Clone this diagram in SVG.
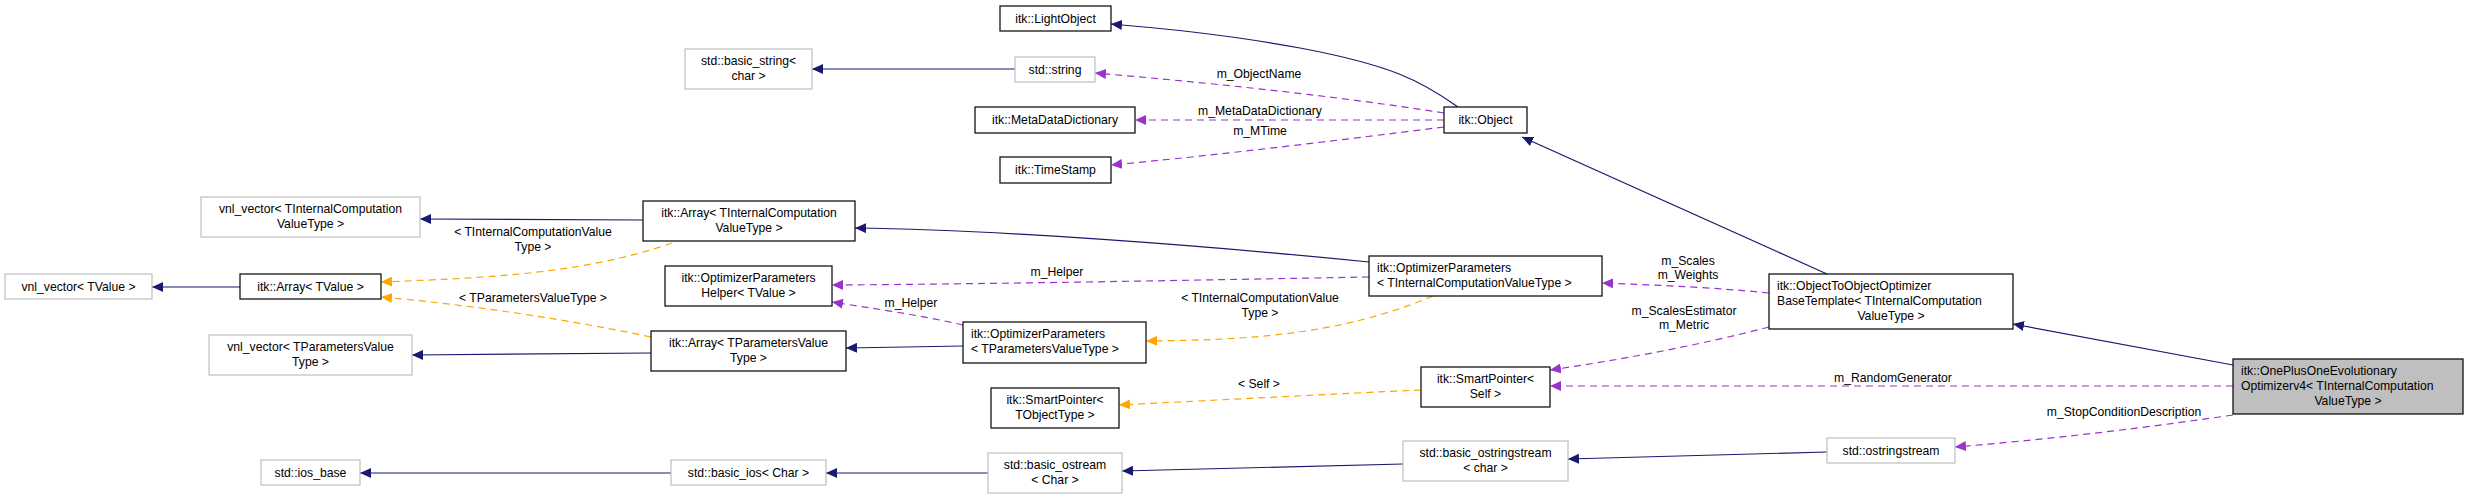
<svg xmlns="http://www.w3.org/2000/svg" width="2465" height="499" viewBox="0 0 2465 499">
<style>
text{font-family:"Liberation Sans",Arial,sans-serif;font-size:12.2px;fill:#000}
.c{text-anchor:middle}
.b{fill:#fff;stroke:#000;stroke-width:1.2}
.g{fill:#fff;stroke:#bfbfbf;stroke-width:1.2}
.n{fill:none;stroke:#191970;stroke-width:1.2}
.p{fill:none;stroke:#9a32cd;stroke-width:1.2;stroke-dasharray:7,5}
.o{fill:none;stroke:#ffa500;stroke-width:1.2;stroke-dasharray:7,5}
</style>
<defs>
<marker id="an" markerWidth="12" markerHeight="10" refX="11" refY="5" orient="auto" markerUnits="userSpaceOnUse"><path d="M0,0L11,5L0,10z" fill="#191970"/></marker>
<marker id="ap" markerWidth="12" markerHeight="10" refX="11" refY="5" orient="auto" markerUnits="userSpaceOnUse"><path d="M0,0L11,5L0,10z" fill="#9a32cd"/></marker>
<marker id="ao" markerWidth="12" markerHeight="10" refX="11" refY="5" orient="auto" markerUnits="userSpaceOnUse"><path d="M0,0L11,5L0,10z" fill="#ffa500"/></marker>
</defs>
<g id="connectors">
<path class="n" marker-end="url(#an)" d="M1015,69L812,69"/>
<path class="n" marker-end="url(#an)" d="M1458,107C1420,80 1390,65 1300,48C1230,35 1160,28 1111,24"/>
<path class="n" marker-end="url(#an)" d="M1827,274L1522,137"/>
<path class="p" marker-end="url(#ap)" d="M1444,113C1330,95 1200,82 1095,73"/>
<text class="c" x="1259" y="78">m_ObjectName</text>
<path class="p" marker-end="url(#ap)" d="M1444,120L1135,120"/>
<text class="c" x="1260" y="115">m_MetaDataDictionary</text>
<path class="p" marker-end="url(#ap)" d="M1444,127C1340,140 1220,155 1111,165"/>
<text class="c" x="1260" y="135">m_MTime</text>
<path class="n" marker-end="url(#an)" d="M1369,262C1200,245 1000,230 855,228"/>
<path class="n" marker-end="url(#an)" d="M643,220L420,219"/>
<path class="n" marker-end="url(#an)" d="M240,287L152,287"/>
<path class="o" marker-end="url(#ao)" d="M672,243C580,275 480,278 381,282"/>
<text class="c" x="533" y="236">&lt; TInternalComputationValue</text>
<text class="c" x="533" y="251">Type &gt;</text>
<path class="o" marker-end="url(#ao)" d="M651,337C560,318 470,305 381,297"/>
<text class="c" x="533" y="302">&lt; TParametersValueType &gt;</text>
<path class="n" marker-end="url(#an)" d="M651,353L412,355"/>
<path class="n" marker-end="url(#an)" d="M963,346L846,348"/>
<path class="p" marker-end="url(#ap)" d="M1369,277C1200,280 1000,284 832,285"/>
<text class="c" x="1057" y="276">m_Helper</text>
<path class="p" marker-end="url(#ap)" d="M963,325C920,315 870,308 832,302"/>
<text class="c" x="911" y="307">m_Helper</text>
<path class="o" marker-end="url(#ao)" d="M1433,296C1340,335 1250,340 1146,341"/>
<text class="c" x="1260" y="302">&lt; TInternalComputationValue</text>
<text class="c" x="1260" y="317">Type &gt;</text>
<path class="p" marker-end="url(#ap)" d="M1769,293C1720,288 1660,285 1602,283"/>
<text class="c" x="1688" y="265">m_Scales</text>
<text class="c" x="1688" y="279">m_Weights</text>
<path class="p" marker-end="url(#ap)" d="M1769,327C1700,345 1620,360 1550,370"/>
<text class="c" x="1684" y="315">m_ScalesEstimator</text>
<text class="c" x="1684" y="329">m_Metric</text>
<path class="p" marker-end="url(#ap)" d="M2233,386L1550,386"/>
<text class="c" x="1893" y="382">m_RandomGenerator</text>
<path class="o" marker-end="url(#ao)" d="M1421,390C1330,394 1220,400 1119,405"/>
<text class="c" x="1259" y="388">&lt; Self &gt;</text>
<path class="n" marker-end="url(#an)" d="M1403,464L1122,471"/>
<path class="n" marker-end="url(#an)" d="M988,473L826,473"/>
<path class="n" marker-end="url(#an)" d="M671,473L360,473"/>
<path class="n" marker-end="url(#an)" d="M1827,452L1568,459"/>
<path class="p" marker-end="url(#ap)" d="M2233,415C2130,430 2040,440 1955,447"/>
<text class="c" x="2124" y="416">m_StopConditionDescription</text>
<path class="n" marker-end="url(#an)" d="M2233,365L2013,324"/>
</g>
<g id="n_lightobject"><rect class="b" x="1000" y="6" width="111" height="25"/><text class="c" x="1055.5" y="23">itk::LightObject</text></g>
<g id="n_basic_string"><rect class="g" x="685" y="49" width="127" height="40"/><text class="c" x="748.5" y="65">std::basic_string&lt;</text><text class="c" x="748.5" y="80">char &gt;</text></g>
<g id="n_string"><rect class="g" x="1015" y="57" width="80" height="25"/><text class="c" x="1055" y="74">std::string</text></g>
<g id="n_mdd"><rect class="b" x="975" y="107" width="160" height="26"/><text class="c" x="1055" y="124">itk::MetaDataDictionary</text></g>
<g id="n_timestamp"><rect class="b" x="1000" y="157" width="111" height="26"/><text class="c" x="1055.5" y="174">itk::TimeStamp</text></g>
<g id="n_object"><rect class="b" x="1444" y="107" width="83" height="26"/><text class="c" x="1485.5" y="124">itk::Object</text></g>
<g id="n_vnl_tic"><rect class="g" x="201" y="197" width="219" height="40"/><text class="c" x="310.5" y="213">vnl_vector&lt; TInternalComputation</text><text class="c" x="310.5" y="228">ValueType &gt;</text></g>
<g id="n_array_tic"><rect class="b" x="643" y="201" width="212" height="40"/><text class="c" x="749" y="217">itk::Array&lt; TInternalComputation</text><text class="c" x="749" y="232">ValueType &gt;</text></g>
<g id="n_vnl_tv"><rect class="g" x="5" y="274" width="147" height="25"/><text class="c" x="78.5" y="291">vnl_vector&lt; TValue &gt;</text></g>
<g id="n_array_tv"><rect class="b" x="240" y="274" width="141" height="25"/><text class="c" x="310.5" y="291">itk::Array&lt; TValue &gt;</text></g>
<g id="n_helper"><rect class="b" x="665" y="266" width="167" height="40"/><text class="c" x="748.5" y="282">itk::OptimizerParameters</text><text class="c" x="748.5" y="297">Helper&lt; TValue &gt;</text></g>
<g id="n_vnl_tp"><rect class="g" x="209" y="335" width="203" height="40"/><text class="c" x="310.5" y="351">vnl_vector&lt; TParametersValue</text><text class="c" x="310.5" y="366">Type &gt;</text></g>
<g id="n_array_tp"><rect class="b" x="651" y="331" width="195" height="40"/><text class="c" x="748.5" y="347">itk::Array&lt; TParametersValue</text><text class="c" x="748.5" y="362">Type &gt;</text></g>
<g id="n_optp_tic"><rect class="b" x="1369" y="256" width="233" height="40"/><text x="1377" y="272">itk::OptimizerParameters</text><text x="1377" y="287">&lt; TInternalComputationValueType &gt;</text></g>
<g id="n_optp_tp"><rect class="b" x="963" y="322" width="183" height="41"/><text x="971" y="338">itk::OptimizerParameters</text><text x="971" y="353">&lt; TParametersValueType &gt;</text></g>
<g id="n_sp_tot"><rect class="b" x="991" y="388" width="128" height="40"/><text class="c" x="1055" y="404">itk::SmartPointer&lt;</text><text class="c" x="1055" y="419">TObjectType &gt;</text></g>
<g id="n_sp_self"><rect class="b" x="1421" y="367" width="129" height="40"/><text class="c" x="1485.5" y="383">itk::SmartPointer&lt;</text><text class="c" x="1485.5" y="398">Self &gt;</text></g>
<g id="n_o2o"><rect class="b" x="1769" y="274" width="244" height="55"/><text x="1777" y="290">itk::ObjectToObjectOptimizer</text><text x="1777" y="305">BaseTemplate&lt; TInternalComputation</text><text class="c" x="1891" y="320">ValueType &gt;</text></g>
<g id="n_oneplusone"><rect x="2233" y="359" width="230" height="55" fill="#bfbfbf" stroke="#000" stroke-width="1.2"/><text x="2241" y="375">itk::OnePlusOneEvolutionary</text><text x="2241" y="390">Optimizerv4&lt; TInternalComputation</text><text class="c" x="2348" y="405">ValueType &gt;</text></g>
<g id="n_ostringstream"><rect class="g" x="1827" y="438" width="128" height="25"/><text class="c" x="1891" y="455">std::ostringstream</text></g>
<g id="n_basic_ostringstream"><rect class="g" x="1403" y="441" width="165" height="40"/><text class="c" x="1485.5" y="457">std::basic_ostringstream</text><text class="c" x="1485.5" y="472">&lt; char &gt;</text></g>
<g id="n_basic_ostream"><rect class="g" x="988" y="453" width="134" height="40"/><text class="c" x="1055" y="469">std::basic_ostream</text><text class="c" x="1055" y="484">&lt; Char &gt;</text></g>
<g id="n_basic_ios"><rect class="g" x="671" y="460" width="155" height="25"/><text class="c" x="748.5" y="477">std::basic_ios&lt; Char &gt;</text></g>
<g id="n_ios_base"><rect class="g" x="261" y="460" width="99" height="25"/><text class="c" x="310.5" y="477">std::ios_base</text></g>
</svg>
